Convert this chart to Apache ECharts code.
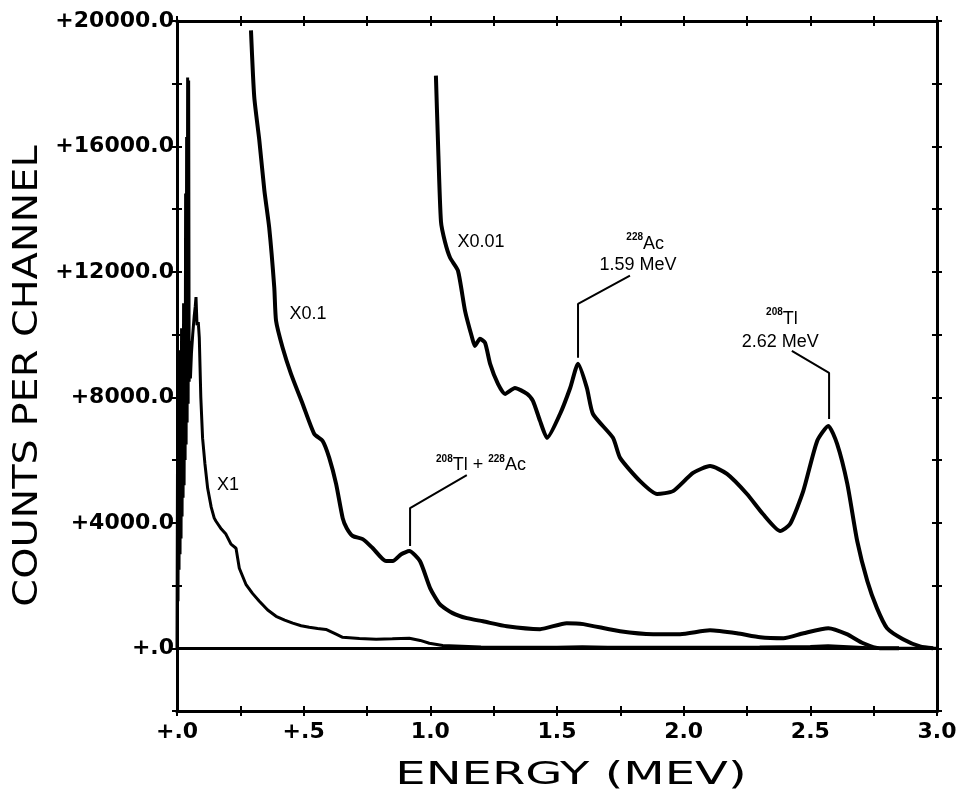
<!DOCTYPE html>
<html>
<head>
<meta charset="utf-8">
<title>Gamma spectrum</title>
<script src="https://cdn.jsdelivr.net/npm/echarts@6/dist/echarts.min.js"></script>
<style>
  html, body { margin: 0; background: #fff; }
  #chart { width: 964px; height: 797px; }
</style>
</head>
<body>
<div id="chart"></div>
<script>
// X1 trace, spikes at the very low end included
const x1Energy = [0, 0.002, 0.004, 0.006, 0.008, 0.010, 0.012, 0.014, 0.016, 0.018, 0.020, 0.022, 0.024, 0.026, 0.028,
  0.030, 0.032, 0.034, 0.036, 0.038, 0.040, 0.042, 0.044, 0.046, 0.048, 0.050, 0.053, 0.057, 0.062, 0.068, 0.072, 0.075,
  0.079, 0.084, 0.088, 0.094, 0.101, 0.110, 0.121, 0.135, 0.147, 0.154, 0.175, 0.193, 0.213, 0.233, 0.246, 0.272,
  0.298, 0.325, 0.358, 0.391, 0.425, 0.457, 0.490, 0.522, 0.555, 0.588, 0.628, 0.654, 0.720, 0.786, 0.850, 0.917,
  0.960, 0.996, 1.049, 1.200, 1.500, 1.600, 1.700, 2.000, 2.300, 2.500, 2.570, 2.650, 2.750, 3.000];
const x1Counts = [0, 6000, 1500, 8500, 2500, 9500, 3000, 7800, 3500, 10200, 4200, 9000, 4800, 11000, 5200,
  9800, 6000, 14500, 6500, 16300, 7200, 18200, 7800, 18100, 8500, 9800, 8600, 9400, 10000, 10600, 10900, 11200,
  10300, 10400, 9900, 8000, 6700, 5900, 5100, 4500, 4150, 4050, 3800, 3640, 3320, 3190, 2550, 2040,
  1750, 1500, 1220, 1020, 900, 800, 720, 670, 630, 600, 450, 350, 310, 290, 300, 320,
  250, 160, 90, 40, 30, 50, 30, 30, 40, 60, 80, 50, 10, 0];

// X0.1 trace
const x01Energy = [0.292, 0.305, 0.325, 0.345, 0.364, 0.384, 0.391, 0.417, 0.450, 0.496, 0.542, 0.575, 0.601, 0.628,
  0.654, 0.670, 0.694, 0.733, 0.773, 0.825, 0.852, 0.885, 0.917, 0.959, 0.999, 1.038, 1.088, 1.144, 1.208, 1.302,
  1.433, 1.538, 1.604, 1.749, 1.880, 1.986, 2.104, 2.210, 2.302, 2.394, 2.473, 2.571, 2.644, 2.709, 2.775, 2.850];
const x01Counts = [19700, 17570, 16190, 14590, 13410, 11500, 10440, 9580, 8750, 7790, 6830, 6610, 6070, 5240,
  4150, 3830, 3580, 3480, 3190, 2780, 2780, 3000, 3100, 2780, 1920, 1400, 1120, 960, 860, 700,
  610, 800, 770, 540, 450, 450, 575, 480, 350, 320, 480, 640, 450, 160, 0, 0];

// X0.01 trace
const x001Energy = [1.022, 1.030, 1.042, 1.058, 1.078, 1.109, 1.137, 1.165, 1.176, 1.196, 1.216, 1.236, 1.267, 1.295,
  1.334, 1.382, 1.405, 1.433, 1.461, 1.512, 1.552, 1.583, 1.618, 1.642, 1.721, 1.749, 1.828, 1.895, 1.958, 2.037,
  2.104, 2.171, 2.250, 2.313, 2.381, 2.420, 2.472, 2.527, 2.571, 2.606, 2.646, 2.685, 2.725, 2.763, 2.803, 2.866,
  2.933, 2.985];
const x001Counts = [18260, 16190, 13600, 12950, 12450, 12040, 10760, 9900, 9640, 9870, 9740, 9070, 8430, 8110,
  8300, 8110, 7890, 7250, 6710, 7470, 8300, 9070, 8300, 7470, 6710, 6070, 5330, 4920, 5010, 5590,
  5810, 5560, 4920, 4280, 3740, 3960, 5010, 6610, 7090, 6510, 5240, 3420, 2140, 1280, 640, 290,
  60, 0];

// leader lines from peaks to their labels [energy, counts]
const leaderAc = [[1.583, 9260], [1.583, 10980], [1.788, 11880]];
const leaderMix = [[0.920, 3260], [0.920, 4470], [1.144, 5520]];
const leaderTl = [[2.574, 7310], [2.574, 8780], [2.427, 9480]];

// text labels: [energy, counts, rich text]
const notes = [
  [0.201, 5240, '{t|X1}'],
  [0.517, 10700, '{t|X0.1}'],
  [1.200, 13000, '{t|X0.01}'],
  [1.848, 12930, '{s|228}{t|Ac}'],
  [1.820, 12260, '{t|1.59 MeV}'],
  [2.388, 10540, '{s|208}{t|Tl}'],
  [2.381, 9800, '{t|2.62 MeV}'],
  [1.200, 5880, '{s|208}{t|Tl + }{s|228}{t|Ac}']
];

const xTickLabels = { 0: '+.0', 0.5: '+.5', 1: '1.0', 1.5: '1.5', 2: '2.0', 2.5: '2.5', 3: '3.0' };

function pairs(xs, ys) {
  return xs.map((x, i) => [x, ys[i]]);
}

const chart = echarts.init(document.getElementById('chart'));

const tickFont = { color: '#000', fontFamily: 'DejaVu Sans', fontWeight: 'bold', fontSize: 22 };

function xAx(pos, inside, labels) {
  return {
    type: 'value', min: 0, max: 3, interval: 0.25, position: pos,
    axisLine: { show: true, onZero: false, lineStyle: { color: '#000', width: 3 } },
    axisTick: { show: true, inside: inside, length: 5, lineStyle: { color: '#000', width: 2 } },
    axisLabel: labels ? Object.assign({
      margin: 10,
      formatter: v => xTickLabels[v] || ''
    }, tickFont) : { show: false },
    splitLine: { show: false }
  };
}

function yAx(pos, inside, labels) {
  return {
    type: 'value', min: -2000, max: 20000, interval: 2000, position: pos,
    axisLine: { show: true, onZero: false, lineStyle: { color: '#000', width: 3 } },
    axisTick: { show: true, inside: inside, length: 5, lineStyle: { color: '#000', width: 2 } },
    axisLabel: labels ? Object.assign({
      margin: 3,
      formatter: v => (v >= 0 && v % 4000 === 0) ? (v === 0 ? '+.0' : '+' + v.toFixed(1)) : ''
    }, tickFont) : { show: false },
    splitLine: { show: false }
  };
}

function trace(name, data, width, smooth) {
  return {
    name: name, type: 'line', data: data, showSymbol: false, smooth: smooth,
    lineStyle: { color: '#000', width: width }, silent: true
  };
}

function leader(pts) {
  return {
    type: 'line', data: pts, showSymbol: false, silent: true,
    lineStyle: { color: '#000', width: 2 }
  };
}

const option = {
  backgroundColor: '#fff',
  animation: false,
  grid: { left: 177, right: 27, top: 21, bottom: 86, containLabel: false, outerBoundsMode: 'none' },
  xAxis: [xAx('bottom', false, true), xAx('bottom', true, false), xAx('top', false, false), xAx('top', true, false)],
  yAxis: [yAx('left', false, true), yAx('left', true, false), yAx('right', false, false), yAx('right', true, false)],
  series: [
    Object.assign(trace('X1', pairs(x1Energy, x1Counts), 3, false), {
      markLine: {
        silent: true, symbol: 'none', label: { show: false },
        lineStyle: { color: '#000', width: 3, type: 'solid' },
        data: [{ yAxis: 0 }]
      }
    }),
    trace('X0.1', pairs(x01Energy, x01Counts), 4, 0.2),
    trace('X0.01', pairs(x001Energy, x001Counts), 4, 0.2),
    leader(leaderAc),
    leader(leaderMix),
    leader(leaderTl),
    {
      type: 'scatter', symbolSize: 0, silent: true,
      itemStyle: { color: '#000', opacity: 1 },
      data: notes.map(n => ({ value: [n[0], n[1]], text: n[2] })),
      label: {
        show: true, position: 'inside', align: 'center', verticalAlign: 'middle', color: '#000',
        formatter: p => p.data.text,
        rich: {
          t: { fontFamily: 'Liberation Sans', fontSize: 18, color: '#000', lineHeight: 20, verticalAlign: 'bottom' },
          s: { fontFamily: 'Liberation Sans', fontSize: 10, fontWeight: 'bold', color: '#000', lineHeight: 20, verticalAlign: 'top' }
        }
      }
    }
  ],
  graphic: [
    {
      type: 'text', x: 571, y: 776, scaleX: 1.5, silent: true,
      style: { text: 'ENERGY (MEV)', font: '32px "DejaVu Sans"', fill: '#000', textAlign: 'center', textVerticalAlign: 'middle' }
    },
    {
      type: 'text', x: 28, y: 376, rotation: Math.PI / 2, scaleX: 1.17, silent: true,
      style: { text: 'COUNTS PER CHANNEL', font: '34px "DejaVu Sans"', fill: '#000', textAlign: 'center', textVerticalAlign: 'middle' }
    }
  ]
};

chart.setOption(option);
</script>
</body>
</html>
